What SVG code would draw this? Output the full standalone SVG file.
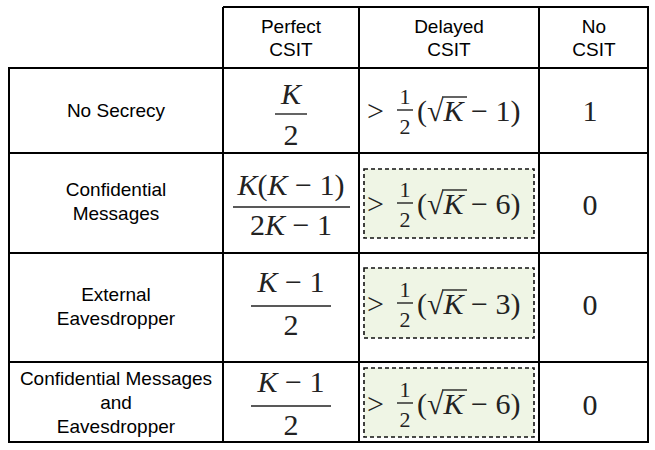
<svg xmlns="http://www.w3.org/2000/svg" width="655" height="450" viewBox="0 0 655 450">
<style>
.g{stroke:#000;stroke-width:2;fill:none}
.lab{font-family:"Liberation Sans",Arial,sans-serif;font-size:19px;text-anchor:middle;fill:#000}
.m{font-family:"Liberation Serif","Times New Roman",serif;font-size:30px;fill:#222}
.mc{text-anchor:middle}
.i{font-style:italic}
.s{font-size:22px}
.fl{stroke:#222;stroke-width:1.4}
.hl{fill:#eff5e5;stroke:#111;stroke-width:1.6;stroke-dasharray:4 3}
</style>
<rect width="655" height="450" fill="#fff"/>
<g id="grid" class="g">
<path d="M223 7H648V442H9V68H648M9 153H648M9 253H648M9 362H648M223 7V442M359 7V442M539 7V442"/>
</g>
<g id="header">
<text class="lab" x="291" y="33">Perfect</text><text class="lab" x="291" y="56">CSIT</text>
<text class="lab" x="449" y="33">Delayed</text><text class="lab" x="449" y="56">CSIT</text>
<text class="lab" x="594" y="33">No</text><text class="lab" x="594" y="56">CSIT</text>
</g>
<g id="rowlabels">
<text class="lab" x="116" y="117">No Secrecy</text>
<text class="lab" x="116" y="196">Confidential</text><text class="lab" x="116" y="220">Messages</text>
<text class="lab" x="116" y="301">External</text><text class="lab" x="116" y="325">Eavesdropper</text>
<text class="lab" x="116" y="385">Confidential Messages</text><text class="lab" x="116" y="409">and</text><text class="lab" x="116" y="433">Eavesdropper</text>
</g>
<g id="highlights">
<rect class="hl" x="364" y="169" width="170" height="69"/>
<rect class="hl" x="364" y="268" width="170" height="70"/>
<rect class="hl" x="364" y="368" width="170" height="69"/>
</g>
<g id="perfect">
<text class="m mc i" x="291" y="104">K</text><line class="fl" x1="275" y1="114" x2="307" y2="114"/><text class="m mc" x="291" y="145">2</text>
<text class="m mc" x="291" y="195" xml:space="preserve"><tspan class="i">K</tspan>(<tspan class="i">K</tspan> − 1)</text><line class="fl" x1="233" y1="207" x2="350" y2="207"/><text class="m mc" x="291" y="235" xml:space="preserve">2<tspan class="i">K</tspan> − 1</text>
<text class="m mc" x="291" y="292" xml:space="preserve"><tspan class="i">K</tspan> − 1</text><line class="fl" x1="251" y1="306" x2="331" y2="306"/><text class="m mc" x="291" y="335">2</text>
<text class="m mc" x="291" y="392" xml:space="preserve"><tspan class="i">K</tspan> − 1</text><line class="fl" x1="251" y1="406" x2="331" y2="406"/><text class="m mc" x="291" y="435">2</text>
</g>
<g id="delayed">
<g>
<text class="m" x="367" y="121">&gt;</text><text class="m s mc" x="405" y="104">1</text><line class="fl" x1="397" y1="110" x2="413" y2="110"/><text class="m s mc" x="405" y="134">2</text>
<text class="m" x="417" y="121" xml:space="preserve">(√<tspan class="i">K</tspan> − 1)</text><line class="fl" x1="442" y1="97" x2="467" y2="97"/>
</g>
<g transform="translate(0,93)">
<text class="m" x="367" y="121">&gt;</text><text class="m s mc" x="405" y="104">1</text><line class="fl" x1="397" y1="110" x2="413" y2="110"/><text class="m s mc" x="405" y="134">2</text>
<text class="m" x="417" y="121" xml:space="preserve">(√<tspan class="i">K</tspan> − 6)</text><line class="fl" x1="442" y1="97" x2="467" y2="97"/>
</g>
<g transform="translate(0,193)">
<text class="m" x="367" y="121">&gt;</text><text class="m s mc" x="405" y="104">1</text><line class="fl" x1="397" y1="110" x2="413" y2="110"/><text class="m s mc" x="405" y="134">2</text>
<text class="m" x="417" y="121" xml:space="preserve">(√<tspan class="i">K</tspan> − 3)</text><line class="fl" x1="442" y1="97" x2="467" y2="97"/>
</g>
<g transform="translate(0,293)">
<text class="m" x="367" y="121">&gt;</text><text class="m s mc" x="405" y="104">1</text><line class="fl" x1="397" y1="110" x2="413" y2="110"/><text class="m s mc" x="405" y="134">2</text>
<text class="m" x="417" y="121" xml:space="preserve">(√<tspan class="i">K</tspan> − 6)</text><line class="fl" x1="442" y1="97" x2="467" y2="97"/>
</g>
</g>
<g id="nocsit">
<text class="m mc" x="590" y="121" font-size="34">1</text>
<text class="m mc" x="590" y="215" font-size="34">0</text>
<text class="m mc" x="590" y="315" font-size="34">0</text>
<text class="m mc" x="590" y="415" font-size="34">0</text>
</g>
</svg>
